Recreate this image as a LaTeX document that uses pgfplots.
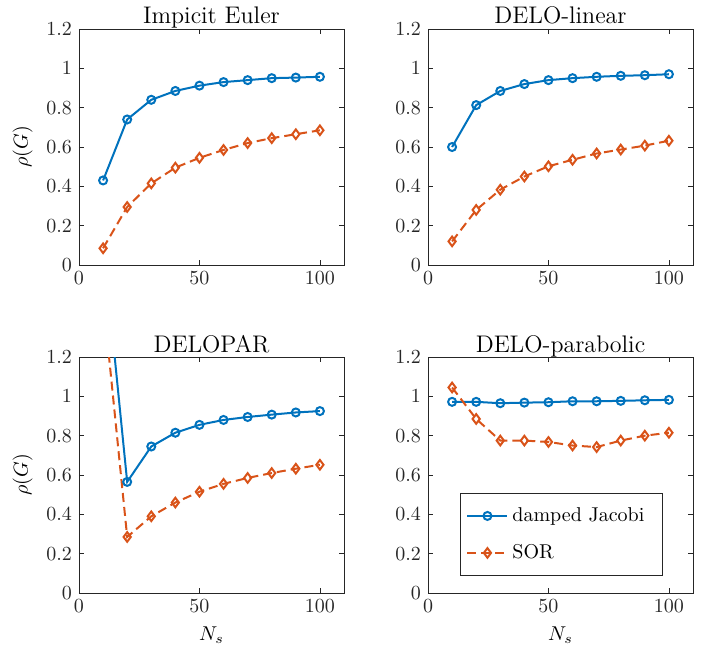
\documentclass[border=0pt]{standalone}
\usepackage{pgfplots}
\pgfplotsset{compat=1.18}

\definecolor{mblue}{rgb}{0,0.447,0.741}
\definecolor{mred}{rgb}{0.85,0.325,0.098}
\definecolor{axgray}{rgb}{0.15,0.15,0.15}

\pgfplotsset{
  panel/.style={
    scale only axis, width=132.5pt, height=118pt,
    anchor=north west,
    xmin=0, xmax=110, ymin=0, ymax=1.2,
    xtick={0,50,100}, ytick={0,0.2,0.4,0.6,0.8,1,1.2},
    tick align=inside, tick pos=both, major tick length=2.5pt,
    axis line style={axgray, line width=0.4pt},
    every tick/.style={axgray, line width=0.4pt},
    tick label style={color=axgray},
    yticklabel style={/pgf/number format/fixed},
    title style={font=\large, anchor=base, yshift=-3.5pt},
  },
  jac/.style={mblue, line width=1pt, mark=o, mark size=2pt, mark options={solid}},
  sor/.style={mred, line width=1pt, dash pattern=on 4.5pt off 2.5pt,
    mark=diamond, mark size=2.4pt, mark options={solid}},
}

\begin{document}
\begin{tikzpicture}
\useasboundingbox (-39.5pt,14.5pt) rectangle (316pt,-312pt);

% top left
\begin{axis}[panel, at={(0pt,0pt)}, title={Impicit Euler}, ylabel={$\rho(G)$}]
\addplot[jac] coordinates {(10,0.43)(20,0.74)(30,0.84)(40,0.885)(50,0.912)(60,0.93)(70,0.94)(80,0.95)(90,0.953)(100,0.957)};
\addplot[sor] coordinates {(10,0.085)(20,0.295)(30,0.415)(40,0.495)(50,0.545)(60,0.585)(70,0.62)(80,0.645)(90,0.665)(100,0.685)};
\end{axis}

% top right
\begin{axis}[panel, at={(174.5pt,0pt)}, title={DELO-linear}]
\addplot[jac] coordinates {(10,0.60)(20,0.813)(30,0.885)(40,0.92)(50,0.94)(60,0.95)(70,0.957)(80,0.962)(90,0.965)(100,0.97)};
\addplot[sor] coordinates {(10,0.12)(20,0.28)(30,0.383)(40,0.45)(50,0.502)(60,0.535)(70,0.567)(80,0.587)(90,0.607)(100,0.632)};
\end{axis}

% bottom left
\begin{axis}[panel, at={(0pt,-164pt)}, title={DELOPAR}, ylabel={$\rho(G)$}, xlabel={$N_s$}]
\addplot[jac] coordinates {(10,1.79)(20,0.565)(30,0.745)(40,0.815)(50,0.855)(60,0.88)(70,0.895)(80,0.907)(90,0.918)(100,0.925)};
\addplot[sor] coordinates {(10,1.5)(20,0.285)(30,0.39)(40,0.46)(50,0.515)(60,0.555)(70,0.585)(80,0.61)(90,0.632)(100,0.652)};
\end{axis}

% bottom right
\begin{axis}[panel, at={(174.5pt,-164pt)}, title={DELO-parabolic}, xlabel={$N_s$},
  legend style={at={(axis cs:13.3,0.508)}, anchor=north west, draw=axgray,
    line width=0.4pt, inner xsep=3pt, inner ysep=5pt, row sep=6pt,
    cells={anchor=west, text width=70pt}},
  legend image code/.code={\draw[#1, mark repeat=2, mark phase=2]
    plot coordinates {(0pt,0pt)(10pt,0pt)(20pt,0pt)};}]
\addplot[jac] coordinates {(10,0.972)(20,0.972)(30,0.965)(40,0.968)(50,0.97)(60,0.975)(70,0.975)(80,0.977)(90,0.98)(100,0.982)};
\addplot[sor] coordinates {(10,1.045)(20,0.885)(30,0.775)(40,0.775)(50,0.768)(60,0.75)(70,0.742)(80,0.775)(90,0.8)(100,0.815)};
\legend{damped Jacobi, SOR}
\end{axis}
\end{tikzpicture}
\end{document}
